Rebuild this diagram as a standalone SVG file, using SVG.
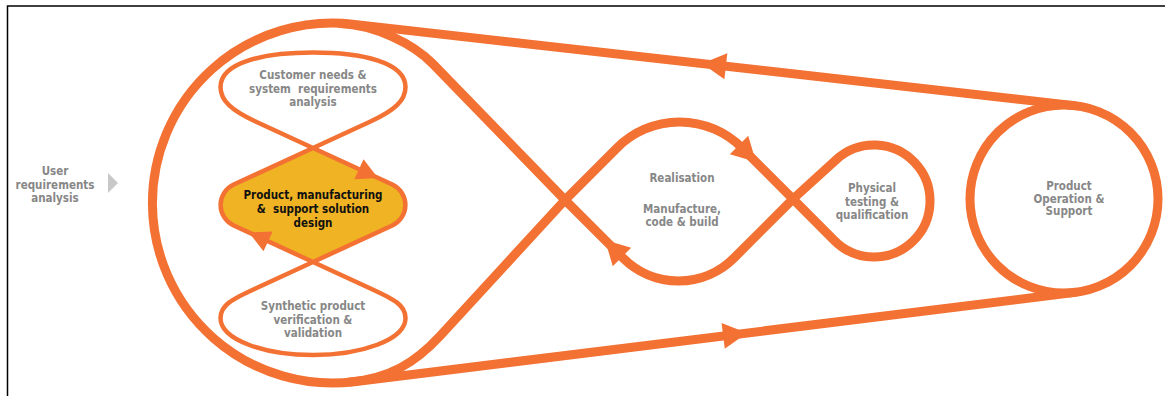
<svg xmlns="http://www.w3.org/2000/svg" width="1165" height="396" viewBox="0 0 1165 396">
<defs>
<style>
.belt{fill:none;stroke:#F37133;stroke-width:9;stroke-linejoin:round;stroke-linecap:round}
.thin{fill:none;stroke:#F37133;stroke-width:4.5;stroke-linejoin:round}
.ah{fill:#F37133}
.lbl{font-family:"DejaVu Sans Condensed","DejaVu Sans",sans-serif;font-stretch:condensed;font-weight:bold;font-size:11.5px;fill:#878787;text-anchor:middle}
.dark{fill:#111111}
</style>
<path id="ahL" d="M0,0 L-24,-13 L-24,13 Z"/>
<path id="ahS" d="M0,0 L-21,-11 L-21,11 Z"/>
</defs>
<rect width="1165" height="396" fill="#ffffff"/>
<rect x="7.5" y="6" width="1200" height="500" fill="none" stroke="#000000" stroke-width="1.5"/>

<g id="connectors">
<path class="belt" d="M1074.5,105.6 L352.2,24.1 A180,180 0 1 0 354.1,381.7 L1075.6,292.3"/>
<path class="belt" d="M340,23.5 C375,25 413,43.4 433,64 L565,200 L623,258 A78.5,78.5 0 0 0 734,258 L793,199 L836.3,159.6 A56,56 0 1 1 834.3,240.5 L793,199 L741.8,147.8 A88.1,88.1 0 0 0 617.2,147.8 L565,200 L440,336 C415,363 390,378 350,382"/>
<path id="fig8-fill" d="M313,148 L392.3,184.5 A22.6,22.6 0 0 1 392.3,225.5 L313,262 L233.7,225.5 A22.6,22.6 0 0 1 233.7,184.5 Z" fill="#F0B323"/>
<path class="thin" d="M313,148 L392.3,184.5 A22.6,22.6 0 0 1 392.3,225.5 L313,262 L371,288.7 C393.7,299.2 405.5,305 405.5,318 C405.5,340 361,355 313,355 C265,355 220.5,340 220.5,318 C220.5,305 232.3,299.2 255,288.7 L313,262 L233.7,225.5 A22.6,22.6 0 0 1 233.7,184.5 L313,148 L255,121.3 C232.3,110.85 220.5,101 220.5,87 C220.5,62 265,52.5 313,52.5 C361,52.5 405.5,62 405.5,87 C405.5,101 393.7,110.85 371,121.3 Z"/>
<use href="#ahL" class="ah" transform="translate(702,63.6) rotate(186.44)"/>
<use href="#ahL" class="ah" transform="translate(747,333) rotate(-7.06)"/>
<use href="#ahL" class="ah" transform="translate(756,162) rotate(45)"/>
<use href="#ahL" class="ah" transform="translate(605,240) rotate(225)"/>
<use href="#ahS" class="ah" transform="translate(378,178) rotate(24.7)"/>
<use href="#ahS" class="ah" transform="translate(249,232.6) rotate(204.7)"/>
</g>

<g id="user-requirements">
<text class="lbl" x="55" y="175">User</text>
<text class="lbl" x="55" y="188.5">requirements</text>
<text class="lbl" x="55" y="202">analysis</text>
<polygon points="108,173 118,183 108,193" fill="#C8C8C8"/>
</g>

<g id="customer-needs">
<text class="lbl" x="313" y="78.5">Customer needs &amp;</text>
<text class="lbl" x="313" y="92.5">system&#160; requirements</text>
<text class="lbl" x="313" y="106">analysis</text>
</g>

<g id="solution-design">
<text class="lbl dark" x="313" y="199">Product, manufacturing</text>
<text class="lbl dark" x="313" y="213">&amp;&#160; support solution</text>
<text class="lbl dark" x="313" y="227">design</text>
</g>

<g id="synthetic-verification">
<text class="lbl" x="313" y="310">Synthetic product</text>
<text class="lbl" x="313" y="323.5">verification &amp;</text>
<text class="lbl" x="313" y="337">validation</text>
</g>

<g id="realisation">
<text class="lbl" x="682" y="182">Realisation</text>
<text class="lbl" x="682" y="213">Manufacture,</text>
<text class="lbl" x="682" y="226">code &amp; build</text>
</g>

<g id="physical-testing">
<text class="lbl" x="872" y="192">Physical</text>
<text class="lbl" x="872" y="205.5">testing &amp;</text>
<text class="lbl" x="872" y="219">qualification</text>
</g>

<g id="product-operation">
<circle class="belt" cx="1064" cy="199" r="94"/>
<text class="lbl" x="1069" y="190">Product</text>
<text class="lbl" x="1069" y="202.5">Operation &amp;</text>
<text class="lbl" x="1069" y="215">Support</text>
</g>
</svg>
